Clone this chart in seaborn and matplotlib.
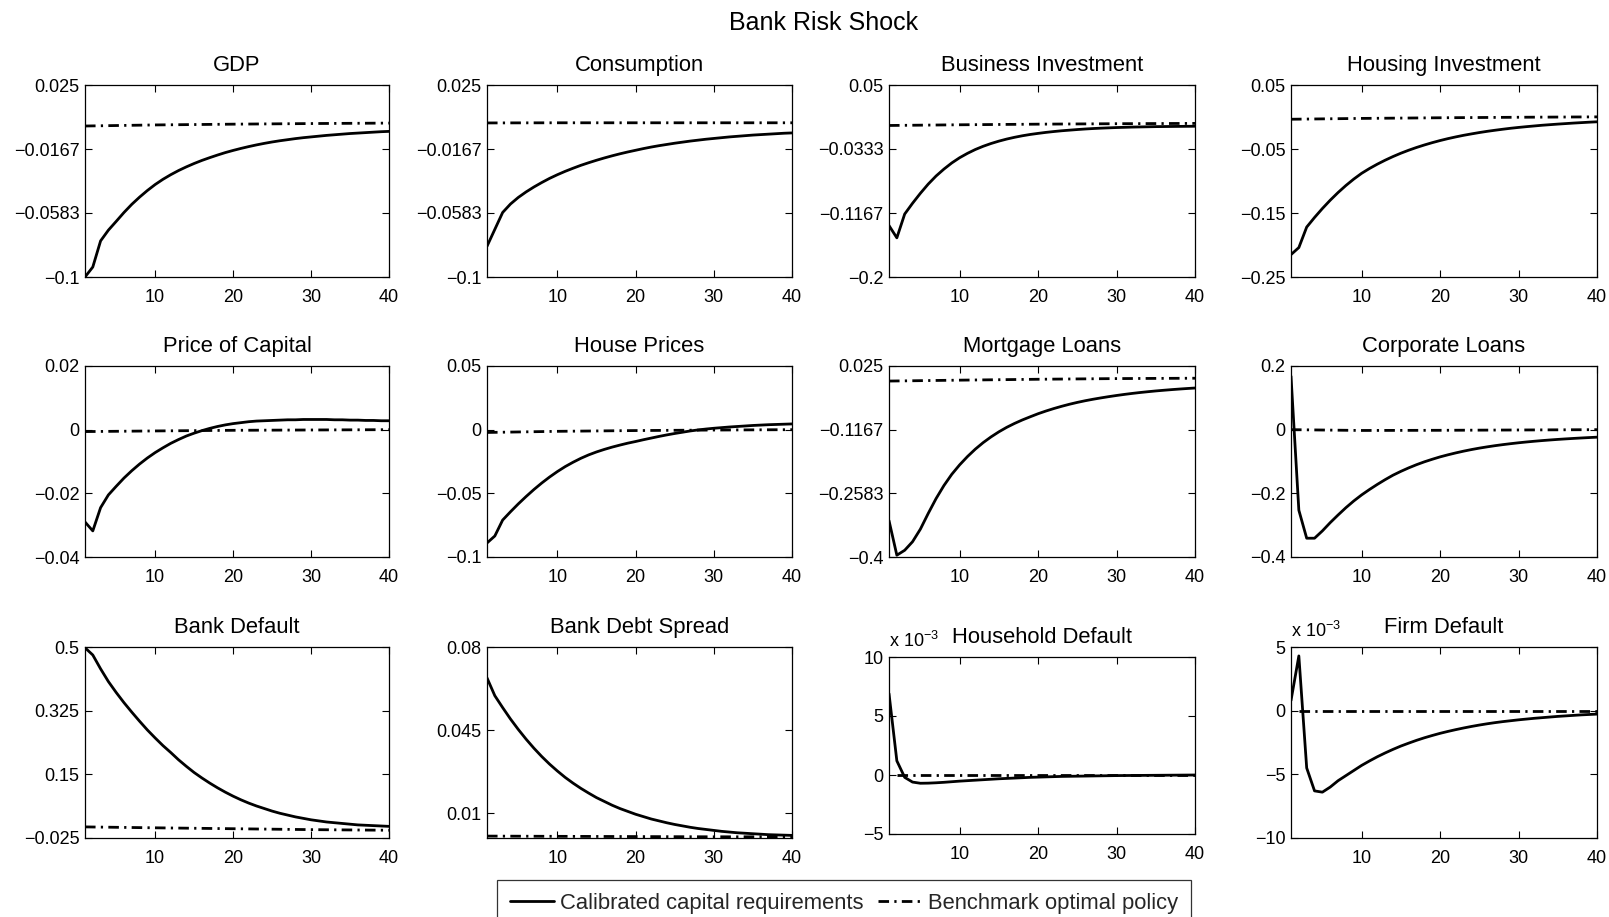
import matplotlib
matplotlib.use("Agg")
import matplotlib.pyplot as plt
import matplotlib.transforms as mtransforms
from matplotlib.lines import Line2D
import seaborn as sns

# ---------------- data ----------------
periods = list(range(1, 41))
bench_periods = [1, 10, 20, 30, 40]
bench_periods_default = [2, 10, 20, 30, 40]

suptitle = "Bank Risk Shock"
panel_titles = ["GDP", "Consumption", "Business Investment", "Housing Investment",
                "Price of Capital", "House Prices", "Mortgage Loans", "Corporate Loans",
                "Bank Default", "Bank Debt Spread", "Household Default", "Firm Default"]
legend_labels = ["Calibrated capital requirements", "Benchmark optimal policy"]

gdp_cal = [-0.1000, -0.0935, -0.0765, -0.0695, -0.0638, -0.0580, -0.0527, -0.0480, -0.0437, -0.0398,
           -0.0364, -0.0334, -0.0307, -0.0283, -0.0261, -0.0241, -0.0223, -0.0206, -0.0190, -0.0176,
           -0.0163, -0.0151, -0.0140, -0.0130, -0.0121, -0.0113, -0.0106, -0.0099, -0.0093, -0.0088,
           -0.0083, -0.0078, -0.0074, -0.0070, -0.0066, -0.0063, -0.0060, -0.0057, -0.0054, -0.0052]
gdp_bench = [-0.0017, -0.0010, -0.0005, -0.0001, 0.0002]

consumption_cal = [-0.0800, -0.0690, -0.0580, -0.0525, -0.0482, -0.0446, -0.0414, -0.0385, -0.0358, -0.0334,
                   -0.0312, -0.0292, -0.0273, -0.0256, -0.0240, -0.0225, -0.0211, -0.0198, -0.0186, -0.0175,
                   -0.0164, -0.0154, -0.0145, -0.0137, -0.0129, -0.0122, -0.0115, -0.0109, -0.0103, -0.0098,
                   -0.0093, -0.0088, -0.0084, -0.0080, -0.0076, -0.0073, -0.0070, -0.0067, -0.0064, -0.0062]
consumption_bench = [0.0003, 0.0004, 0.0004, 0.0004, 0.0004]

business_cal = [-0.1330, -0.1490, -0.1180, -0.1040, -0.0910, -0.0790, -0.0685, -0.0595, -0.0515, -0.0447,
                -0.0390, -0.0340, -0.0298, -0.0262, -0.0231, -0.0204, -0.0181, -0.0161, -0.0144, -0.0130,
                -0.0117, -0.0106, -0.0096, -0.0088, -0.0080, -0.0073, -0.0067, -0.0062, -0.0058, -0.0054,
                -0.0051, -0.0048, -0.0046, -0.0044, -0.0042, -0.0041, -0.0040, -0.0039, -0.0038, -0.0037]
business_bench = [-0.0027, -0.0018, -0.0010, -0.0004, 0.0000]

housing_cal = [-0.2150, -0.2040, -0.1720, -0.1570, -0.1430, -0.1300, -0.1180, -0.1070, -0.0970, -0.0880,
               -0.0805, -0.0737, -0.0675, -0.0618, -0.0566, -0.0519, -0.0476, -0.0437, -0.0401, -0.0368,
               -0.0338, -0.0311, -0.0286, -0.0264, -0.0243, -0.0224, -0.0207, -0.0191, -0.0176, -0.0163,
               -0.0151, -0.0140, -0.0129, -0.0120, -0.0111, -0.0103, -0.0095, -0.0088, -0.0081, -0.0075]
housing_bench = [-0.0035, -0.0022, -0.0012, -0.0004, 0.0002]

price_capital_cal = [-0.0290, -0.0318, -0.0245, -0.0205, -0.0178, -0.0152, -0.0129, -0.0108, -0.0089, -0.0072,
                     -0.0057, -0.0043, -0.0031, -0.0020, -0.0011, -0.0003, 0.0004, 0.0010, 0.0015, 0.0019,
                     0.0022, 0.0025, 0.0027, 0.0028, 0.0029, 0.0030, 0.0031, 0.0031, 0.0032, 0.0032,
                     0.0032, 0.0032, 0.0031, 0.0031, 0.0030, 0.0030, 0.0029, 0.0029, 0.0028, 0.0028]
price_capital_bench = [-0.0006, -0.0004, -0.0002, -0.0001, 0.0000]

house_prices_cal = [-0.0890, -0.0835, -0.0710, -0.0645, -0.0583, -0.0525, -0.0470, -0.0419, -0.0372, -0.0329,
                    -0.0290, -0.0256, -0.0225, -0.0198, -0.0175, -0.0155, -0.0137, -0.0121, -0.0106, -0.0093,
                    -0.0079, -0.0066, -0.0053, -0.0041, -0.0030, -0.0020, -0.0010, -0.0002, 0.0005, 0.0011,
                    0.0016, 0.0021, 0.0025, 0.0029, 0.0033, 0.0036, 0.0039, 0.0041, 0.0043, 0.0045]
house_prices_bench = [-0.0022, -0.0013, -0.0007, -0.0003, 0.0000]

mortgage_cal = [-0.3190, -0.3960, -0.3850, -0.3660, -0.3380, -0.3030, -0.2700, -0.2410, -0.2160, -0.1950,
                -0.1765, -0.1600, -0.1455, -0.1328, -0.1215, -0.1115, -0.1028, -0.0950, -0.0880, -0.0812,
                -0.0752, -0.0697, -0.0647, -0.0601, -0.0560, -0.0523, -0.0490, -0.0460, -0.0432, -0.0406,
                -0.0382, -0.0360, -0.0340, -0.0322, -0.0305, -0.0290, -0.0276, -0.0263, -0.0251, -0.0240]
mortgage_bench = [-0.0085, -0.0065, -0.0045, -0.0030, -0.0022]

corporate_cal = [0.1680, -0.2530, -0.3410, -0.3410, -0.3180, -0.2920, -0.2680, -0.2450, -0.2240, -0.2050,
                 -0.1880, -0.1720, -0.1570, -0.1430, -0.1310, -0.1200, -0.1100, -0.1010, -0.0930, -0.0855,
                 -0.0790, -0.0730, -0.0675, -0.0625, -0.0580, -0.0540, -0.0503, -0.0470, -0.0440, -0.0412,
                 -0.0387, -0.0364, -0.0343, -0.0324, -0.0306, -0.0290, -0.0275, -0.0261, -0.0248, -0.0236]
corporate_bench = [0.0000, -0.0025, -0.0020, -0.0010, 0.0000]

bank_default_cal = [0.498, 0.478, 0.440, 0.405, 0.375, 0.347, 0.321, 0.296, 0.272, 0.250,
                    0.229, 0.210, 0.190, 0.172, 0.155, 0.140, 0.126, 0.113, 0.101, 0.090,
                    0.080, 0.071, 0.063, 0.056, 0.049, 0.043, 0.038, 0.033, 0.029, 0.025,
                    0.022, 0.019, 0.017, 0.015, 0.013, 0.011, 0.010, 0.009, 0.008, 0.007]
bank_default_bench = [0.0055, 0.0030, 0.0005, -0.0020, -0.0037]

bank_spread_cal = [0.0670, 0.0595, 0.0545, 0.0497, 0.0453, 0.0412, 0.0374, 0.0339, 0.0307, 0.0278,
                   0.0251, 0.0227, 0.0205, 0.0185, 0.0166, 0.0150, 0.0134, 0.0120, 0.0108, 0.0096,
                   0.0086, 0.0076, 0.0068, 0.0060, 0.0053, 0.0047, 0.0041, 0.0036, 0.0032, 0.0028,
                   0.0024, 0.0021, 0.0018, 0.0016, 0.0014, 0.0012, 0.0010, 0.0009, 0.0008, 0.0007]
bank_spread_bench = [0.0004, 0.0003, 0.0002, 0.0001, 0.0001]

# household and firm default, in units of 1e-3
household_default_cal_e3 = [6.90, 1.20, -0.20, -0.60, -0.70, -0.69, -0.66, -0.62, -0.57, -0.52,
                            -0.48, -0.44, -0.40, -0.36, -0.32, -0.29, -0.26, -0.23, -0.20, -0.18,
                            -0.16, -0.14, -0.12, -0.11, -0.10, -0.09, -0.08, -0.07, -0.06, -0.05,
                            -0.045, -0.040, -0.035, -0.030, -0.025, -0.020, -0.015, -0.010, -0.005, 0.000]
household_default_bench_e3 = [0.0, 0.0, 0.0, 0.0, 0.0]

firm_default_cal_e3 = [0.80, 4.30, -4.50, -6.30, -6.40, -6.00, -5.50, -5.10, -4.70, -4.30,
                       -3.95, -3.62, -3.32, -3.04, -2.78, -2.55, -2.33, -2.13, -1.95, -1.78,
                       -1.63, -1.49, -1.36, -1.24, -1.13, -1.03, -0.94, -0.86, -0.79, -0.72,
                       -0.66, -0.60, -0.55, -0.50, -0.45, -0.41, -0.37, -0.33, -0.30, -0.27]
firm_default_bench_e3 = [0.0, 0.0, 0.0, 0.0, 0.0]

xticks = [10, 20, 30, 40]

y_ticks = [
    [-0.1, -0.0583, -0.0167, 0.025],
    [-0.1, -0.0583, -0.0167, 0.025],
    [-0.2, -0.1167, -0.0333, 0.05],
    [-0.25, -0.15, -0.05, 0.05],
    [-0.04, -0.02, 0, 0.02],
    [-0.1, -0.05, 0, 0.05],
    [-0.4, -0.2583, -0.1167, 0.025],
    [-0.4, -0.2, 0, 0.2],
    [-0.025, 0.15, 0.325, 0.5],
    [0.01, 0.045, 0.08],
    [-5, 0, 5, 10],
    [-10, -5, 0, 5],
]
y_tick_labels = [
    ["−0.1", "−0.0583", "−0.0167", "0.025"],
    ["−0.1", "−0.0583", "−0.0167", "0.025"],
    ["−0.2", "−0.1167", "−0.0333", "0.05"],
    ["−0.25", "−0.15", "−0.05", "0.05"],
    ["−0.04", "−0.02", "0", "0.02"],
    ["−0.1", "−0.05", "0", "0.05"],
    ["−0.4", "−0.2583", "−0.1167", "0.025"],
    ["−0.4", "−0.2", "0", "0.2"],
    ["−0.025", "0.15", "0.325", "0.5"],
    ["0.01", "0.045", "0.08"],
    ["−5", "0", "5", "10"],
    ["−10", "−5", "0", "5"],
]
y_limits = [(-0.1, 0.025), (-0.1, 0.025), (-0.2, 0.05), (-0.25, 0.05),
            (-0.04, 0.02), (-0.1, 0.05), (-0.4, 0.025), (-0.4, 0.2),
            (-0.025, 0.5), (-0.0004, 0.08), (-5, 10), (-10, 5)]

calibrated = [gdp_cal, consumption_cal, business_cal, housing_cal,
              price_capital_cal, house_prices_cal, mortgage_cal, corporate_cal,
              bank_default_cal, bank_spread_cal, household_default_cal_e3, firm_default_cal_e3]
benchmark = [gdp_bench, consumption_bench, business_bench, housing_bench,
             price_capital_bench, house_prices_bench, mortgage_bench, corporate_bench,
             bank_default_bench, bank_spread_bench, household_default_bench_e3, firm_default_bench_e3]
bench_x = [bench_periods] * 10 + [bench_periods_default] * 2
scaled_e3 = [False] * 10 + [True] * 2

# ---------------- style ----------------
sns.set_theme(style="ticks")
plt.rcParams["font.family"] = ["Liberation Sans", "DejaVu Sans"]
plt.rcParams["mathtext.fontset"] = "custom"
plt.rcParams["mathtext.rm"] = "Liberation Sans"
plt.rcParams["axes.edgecolor"] = "black"
plt.rcParams["axes.linewidth"] = 0.9

W, H = 1609, 917
fig = plt.figure(figsize=(W / 100, H / 100), dpi=100)
fig.patch.set_facecolor("white")

col_left = [85, 487, 889, 1291]
col_right = [389, 792, 1195, 1597]
row_top = [85, 366, 647]
row_bottom = [277, 557, 838]

LW = 2.0
DASH = (0, (3.8, 1.9, 0.8, 1.9))
TICK_FS = 13
TITLE_FS = 15.8

for i in range(12):
    r, c = divmod(i, 4)
    top, bot = row_top[r], row_bottom[r]
    if i == 10:
        top, bot = 657, 834
    ax = fig.add_axes([col_left[c] / W, 1 - bot / H,
                       (col_right[c] - col_left[c]) / W, (bot - top) / H])
    sns.lineplot(x=periods, y=calibrated[i], ax=ax, color="black",
                 linewidth=LW, solid_joinstyle="round")
    sns.lineplot(x=bench_x[i], y=benchmark[i], ax=ax, color="black",
                 linewidth=LW, linestyle=DASH)
    ax.set_xlim(1, 40)
    ax.set_ylim(*y_limits[i])
    ax.set_xticks(xticks)
    ax.set_xticklabels([str(t) for t in xticks])
    ax.set_yticks(y_ticks[i])
    ax.set_yticklabels(y_tick_labels[i])
    ax.set_xlabel("")
    ax.set_ylabel("")
    ax.tick_params(axis="both", direction="in", top=True, right=True,
                   length=5, width=0.8, labelsize=TICK_FS, colors="black")
    ax.tick_params(axis="x", pad=8.5)
    ax.tick_params(axis="y", pad=4)
    for s in ax.spines.values():
        s.set_visible(True)
        s.set_color("black")
    ax.set_title(panel_titles[i], fontsize=TITLE_FS, pad=10, color="black")
    if scaled_e3[i]:
        tr = mtransforms.offset_copy(ax.transAxes, fig=fig, x=0, y=10, units="dots")
        ax.text(0.0, 1.0, r"x 10$^{\mathregular{-3}}$", transform=tr,
                ha="left", va="baseline", fontsize=TICK_FS, color="black")

fig.text(824 / W, 1 - 22.6 / H, suptitle, ha="center", va="center",
         fontsize=18, color="black")

handles = [Line2D([0], [0], color="black", linewidth=LW),
           Line2D([0], [0], color="black", linewidth=LW, linestyle=DASH)]
leg = fig.legend(handles, legend_labels, loc="upper center",
                 bbox_to_anchor=(844 / W, 1 - 880 / H), ncol=2, frameon=True,
                 fancybox=False, edgecolor="black", fontsize=TITLE_FS,
                 handlelength=2.0, handletextpad=0.25, columnspacing=0.7,
                 borderpad=0.6, borderaxespad=0)
leg.get_frame().set_linewidth(0.9)

fig.savefig("out.png", dpi=100, facecolor="white")
